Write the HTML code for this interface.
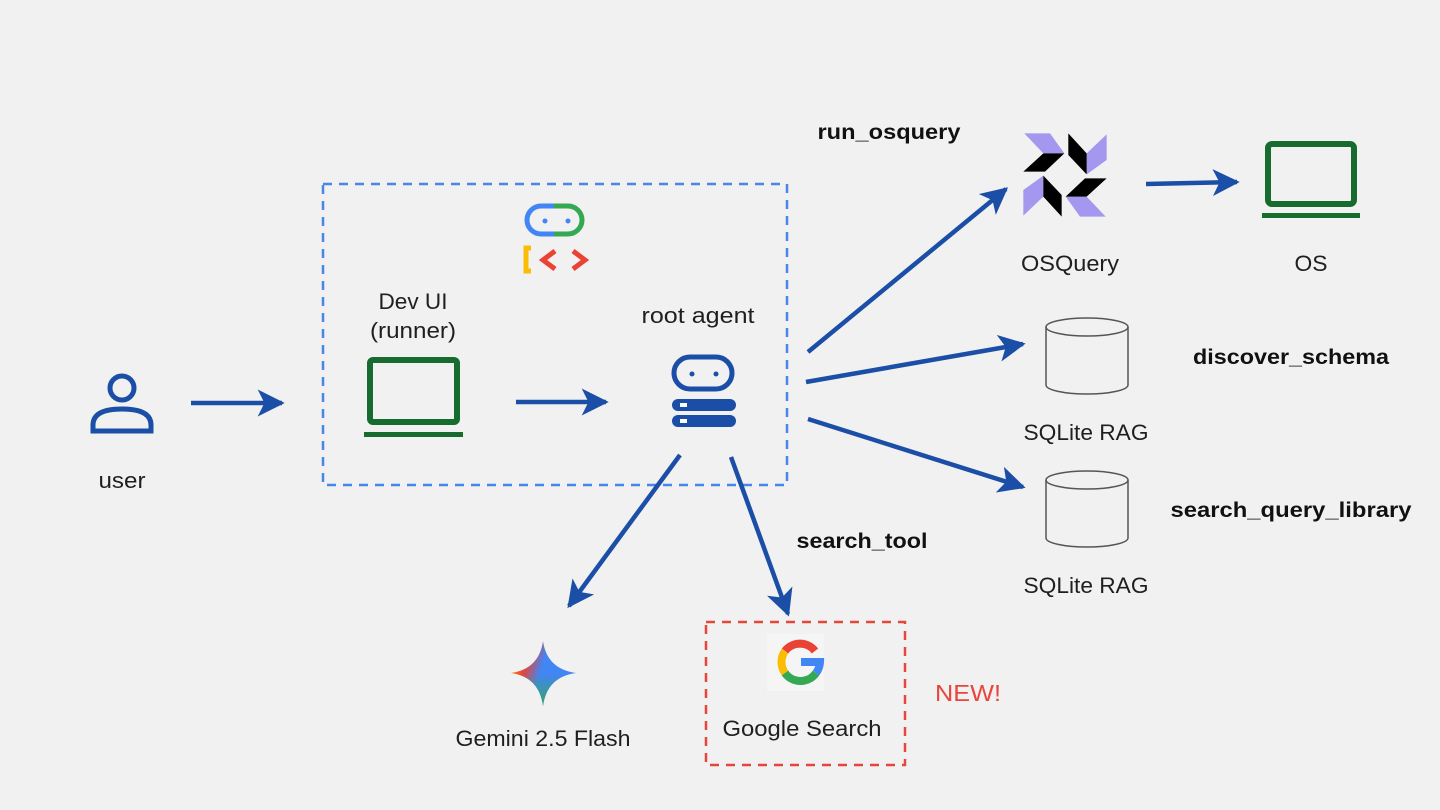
<!DOCTYPE html>
<html><head><meta charset="utf-8"><style>
html,body{margin:0;padding:0;background:#f1f1f1;}
svg{display:block;font-family:"Liberation Sans",Arial,sans-serif;}
</style></head><body>
<svg width="1440" height="810" viewBox="0 0 1440 810" xmlns="http://www.w3.org/2000/svg">
<defs>
<marker id="ah" viewBox="0 0 10 10" refX="9" refY="5" markerWidth="6" markerHeight="6" orient="auto" markerUnits="strokeWidth">
<path d="M0,0 L10,5 L0,10 L2.5,5 Z" fill="#1b4ea6"/>
</marker>
<linearGradient id="gg" x1="0" y1="0" x2="1" y2="0.3">
<stop offset="0" stop-color="#f4b400"/><stop offset="0.3" stop-color="#ea4335"/><stop offset="0.55" stop-color="#4285f4"/><stop offset="1" stop-color="#4285f4"/>
</linearGradient>
<linearGradient id="gg2" x1="0" y1="1" x2="0" y2="0">
<stop offset="0" stop-color="#34a853" stop-opacity="0.9"/><stop offset="0.5" stop-color="#34a853" stop-opacity="0"/>
</linearGradient>
<g id="oq">
<polygon points="28,25 105,25 148,85 85,85" fill="#a497f0"/>
<polygon points="25,140 85,85 148,85 90,140" fill="#000"/>
</g>
</defs>
<rect width="1440" height="810" fill="#f1f1f1"/>

<rect x="323" y="184" width="464" height="301" fill="none" stroke="#4a86e8" stroke-width="2.5" stroke-dasharray="9,7"/>
<rect x="706" y="622" width="199" height="143" fill="none" stroke="#e8453c" stroke-width="2.5" stroke-dasharray="9,7"/>

<g stroke="#1b4ea6" stroke-width="4.5" fill="none" marker-end="url(#ah)">
<line x1="191" y1="403" x2="282" y2="403"/>
<line x1="516" y1="402" x2="606" y2="402"/>
<line x1="1146" y1="184" x2="1237" y2="182"/>
<line x1="808" y1="352" x2="1006" y2="189"/>
<line x1="806" y1="382" x2="1023" y2="344"/>
<line x1="808" y1="419" x2="1023" y2="487"/>
<line x1="680" y1="455" x2="569" y2="606"/>
<line x1="731" y1="457" x2="788" y2="614"/>
</g>

<g fill="none" stroke="#1b4ea6" stroke-width="5">
<circle cx="122" cy="388" r="12"/>
<path d="M93,431 v-6 q0,-16 29,-16 q29,0 29,16 v6 z"/>
</g>

<g fill="none" stroke="#176b2f" stroke-width="6">
<rect x="370" y="360" width="87" height="62" rx="3"/>
<rect x="1268" y="144" width="86" height="60" rx="4"/>
</g>
<rect x="364" y="432" width="99" height="5" fill="#176b2f"/>
<rect x="1262" y="213" width="98" height="5" fill="#176b2f"/>

<path d="M554,206 H541 a14,14 0 0 0 0,28 H554" fill="none" stroke="#4285f4" stroke-width="5"/>
<path d="M554,206 H568 a14,14 0 0 1 0,28 H554" fill="none" stroke="#34a853" stroke-width="5"/>
<circle cx="545" cy="221" r="2.5" fill="#4285f4"/><circle cx="568" cy="221" r="2.5" fill="#4285f4"/>
<path d="M531,248 h-5 v23 h5" fill="none" stroke="#fbbc04" stroke-width="5"/>
<path d="M555,251 l-12,9 l12,9" fill="none" stroke="#ea4335" stroke-width="5"/>
<path d="M573,251 l12,9 l-12,9" fill="none" stroke="#ea4335" stroke-width="5"/>

<rect x="674" y="357" width="58" height="32" rx="16" fill="none" stroke="#1b4ea6" stroke-width="5"/>
<circle cx="692" cy="374" r="2.5" fill="#1b4ea6"/><circle cx="716" cy="374" r="2.5" fill="#1b4ea6"/>
<rect x="672" y="399" width="64" height="12" rx="6" fill="#1b4ea6"/>
<rect x="672" y="415" width="64" height="12" rx="6" fill="#1b4ea6"/>
<rect x="680" y="403" width="7" height="4" fill="#fff"/>
<rect x="680" y="419" width="7" height="4" fill="#fff"/>

<!-- OSQuery icon -->
<g transform="translate(1015,125) scale(0.3333)">
<use href="#oq"/>
<use href="#oq" transform="rotate(90 150 150)"/>
<use href="#oq" transform="rotate(180 150 150)"/>
<use href="#oq" transform="rotate(270 150 150)"/>
</g>

<g fill="none" stroke="#555" stroke-width="1.5">
<path d="M1046,327 v58 a41,9 0 0 0 82,0 v-58"/>
<ellipse cx="1087" cy="327" rx="41" ry="9"/>
<path d="M1046,480 v58 a41,9 0 0 0 82,0 v-58"/>
<ellipse cx="1087" cy="480" rx="41" ry="9"/>
</g>

<path d="M543,641 Q547,669 576,673 Q547,677 543,706 Q539,677 511,673 Q539,669 543,641 Z" fill="url(#gg)"/>
<path d="M543,641 Q547,669 576,673 Q547,677 543,706 Q539,677 511,673 Q539,669 543,641 Z" fill="url(#gg2)"/>

<rect x="767" y="634" width="57" height="57" fill="#f5f5f5"/>
<g fill="none" stroke-width="8">
<path d="M815,651 A19,19 0 0 0 785,651" stroke="#ea4335"/>
<path d="M785,651 A19,19 0 0 0 785,673" stroke="#fbbc04"/>
<path d="M785,673 A19,19 0 0 0 816,673" stroke="#34a853"/>
<path d="M816,673 A19,19 0 0 0 820,662 H801" stroke="#4285f4"/>
</g>

<g font-size="22" fill="#1f1f1f" text-anchor="middle" lengthAdjust="spacingAndGlyphs">
<text x="122" y="488" textLength="47" lengthAdjust="spacingAndGlyphs">user</text>
<text x="413" y="309" textLength="69" lengthAdjust="spacingAndGlyphs">Dev UI</text>
<text x="413" y="338" textLength="86" lengthAdjust="spacingAndGlyphs">(runner)</text>
<text x="698" y="323" textLength="113" lengthAdjust="spacingAndGlyphs">root agent</text>
<text x="1070" y="271" textLength="98" lengthAdjust="spacingAndGlyphs">OSQuery</text>
<text x="1311" y="271" textLength="33" lengthAdjust="spacingAndGlyphs">OS</text>
<text x="1086" y="440" textLength="125" lengthAdjust="spacingAndGlyphs">SQLite RAG</text>
<text x="1086" y="593" textLength="125" lengthAdjust="spacingAndGlyphs">SQLite RAG</text>
<text x="543" y="746" textLength="175" lengthAdjust="spacingAndGlyphs">Gemini 2.5 Flash</text>
<text x="802" y="736" textLength="159" lengthAdjust="spacingAndGlyphs">Google Search</text>
</g>
<g font-size="21" font-weight="bold" fill="#111" text-anchor="middle">
<text x="889" y="139" textLength="143" lengthAdjust="spacingAndGlyphs">run_osquery</text>
<text x="1291" y="364" textLength="196" lengthAdjust="spacingAndGlyphs">discover_schema</text>
<text x="1291" y="517" textLength="241" lengthAdjust="spacingAndGlyphs">search_query_library</text>
<text x="862" y="548" textLength="131" lengthAdjust="spacingAndGlyphs">search_tool</text>
</g>
<text x="968" y="701" font-size="23" fill="#e8453c" text-anchor="middle" textLength="66" lengthAdjust="spacingAndGlyphs">NEW!</text>
</svg>
</body></html>
